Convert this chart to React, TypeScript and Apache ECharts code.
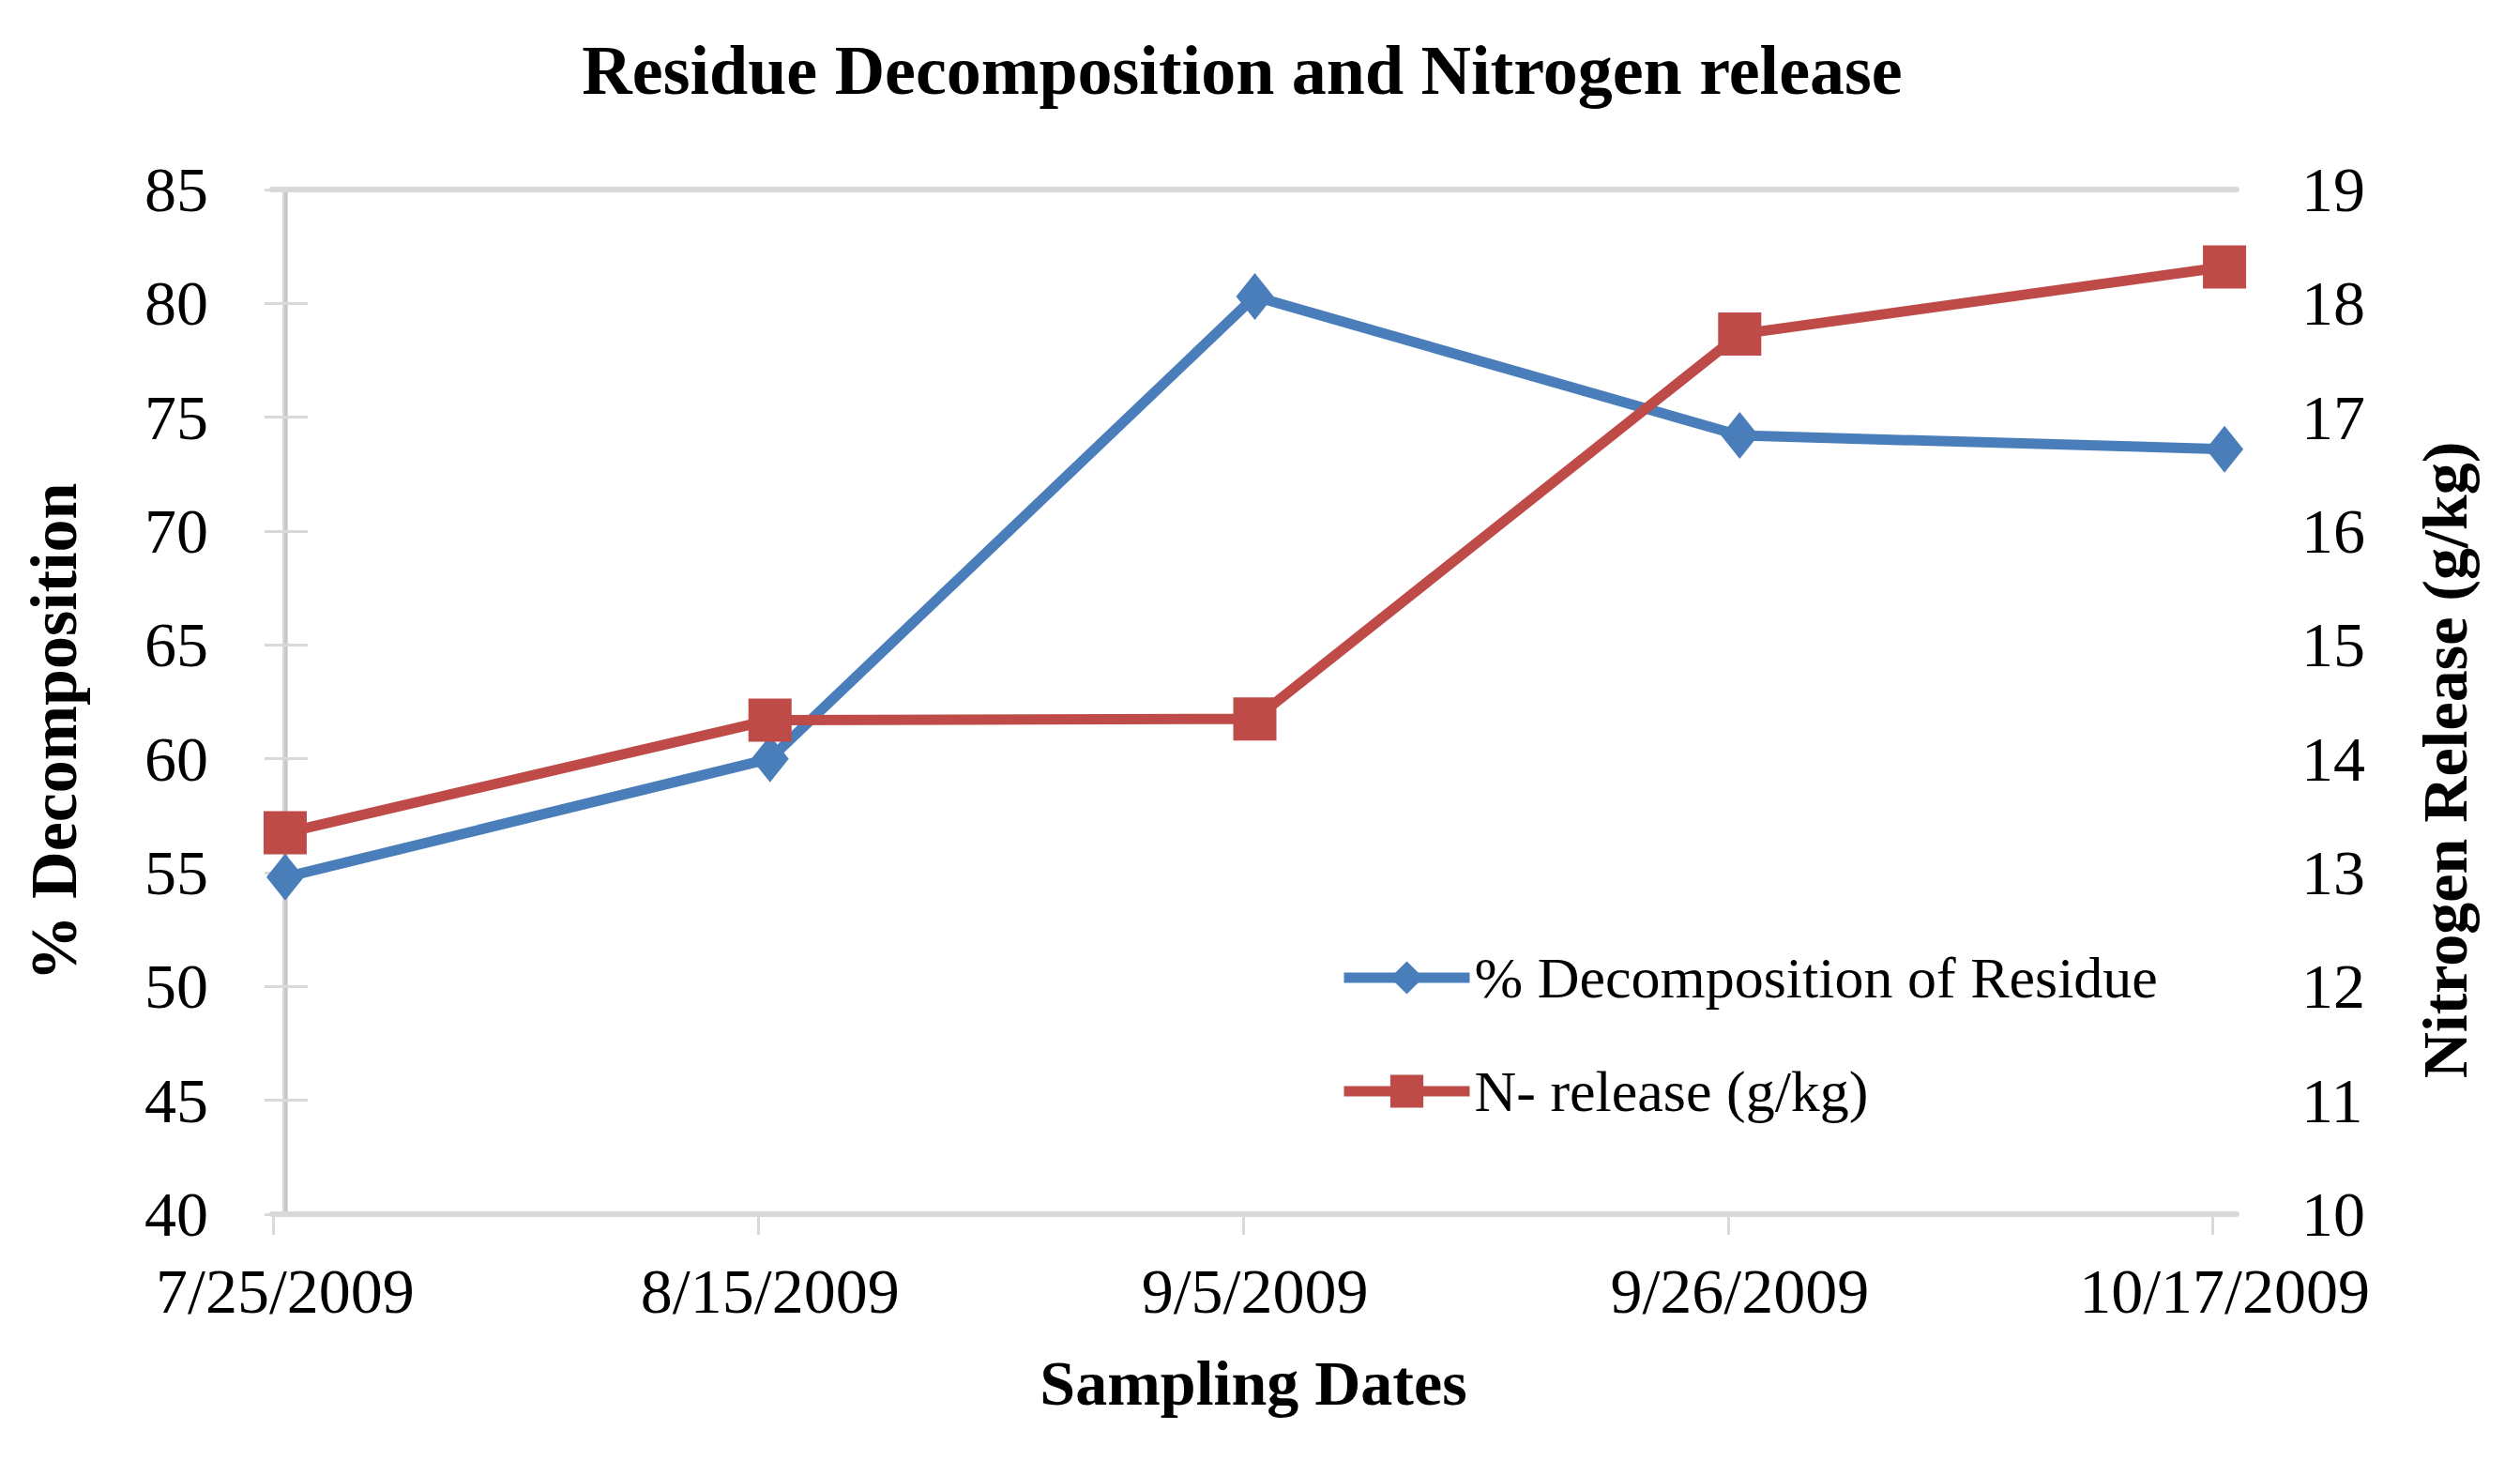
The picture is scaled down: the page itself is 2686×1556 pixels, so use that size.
import React, { useEffect, useRef } from "react";
import * as echarts from "echarts";

const dates = ["7/25/2009", "8/15/2009", "9/5/2009", "9/26/2009", "10/17/2009"];
const decomposition = [54.8, 60.0, 80.3, 74.2, 73.6];
const nRelease = [13.35, 14.34, 14.35, 17.73, 18.32];
const seriesNames = ["% Decomposition of Residue", "N- release (g/kg)"];
const titleText = "Residue Decomposition and Nitrogen release";
const xAxisTitle = "Sampling Dates";
const leftAxisTitle = "% Decomposition";
const rightAxisTitle = "Nitrogen Release (g/kg)";

const FONT = "'Liberation Serif', 'Times New Roman', serif";
const BLUE = "#4a7ebb";
const RED = "#be4b48";
const AXIS = "#d9d9d9";
const LINE_W = 11;

export default function App() {
  const ref = useRef<HTMLDivElement>(null);

  useEffect(() => {
    if (!ref.current) return;
    const chart = echarts.init(ref.current, null, { renderer: "svg" });
    const xMin = -0.027;
    const xMax = dates.length - 1 + 0.025;
    const idx = dates.map((_, i) => i);

    chart.setOption({
      animation: false,
      backgroundColor: "#ffffff",
      grid: { left: 290, right: 302, top: 202, bottom: 262, containLabel: false },
      legend: {
        orient: "vertical",
        left: 1427,
        top: 1011,
        padding: 0,
        itemWidth: 134,
        itemHeight: 44,
        itemGap: 59,
        textStyle: { fontFamily: FONT, fontSize: 62, color: "#000" },
        lineStyle: { width: LINE_W },
        data: seriesNames,
      },
      xAxis: [
        {
          type: "value",
          min: xMin,
          max: xMax,
          position: "bottom",
          axisLine: { show: true, lineStyle: { color: AXIS, width: 6 } },
          axisTick: {
            show: true,
            length: 22,
            customValues: idx.map((i) => i - 0.024),
            lineStyle: { color: AXIS, width: 3 },
          },
          axisLabel: {
            customValues: idx,
            formatter: (v: number) => dates[Math.round(v)] ?? "",
            fontFamily: FONT,
            fontSize: 68,
            color: "#000",
            margin: 82,
            verticalAlign: "middle",
          },
          splitLine: { show: false },
        },
        {
          type: "value",
          min: xMin,
          max: xMax,
          position: "top",
          axisLine: { show: true, lineStyle: { color: AXIS, width: 6 } },
          axisTick: { show: false },
          axisLabel: { show: false },
          splitLine: { show: false },
        },
      ],
      yAxis: [
        {
          type: "value",
          min: 40,
          max: 85,
          interval: 5,
          position: "left",
          axisLine: { show: true, lineStyle: { color: AXIS, width: 6 } },
          axisTick: { show: true, length: 22, lineStyle: { color: AXIS, width: 3 } },
          axisLabel: { fontFamily: FONT, fontSize: 68, color: "#000", margin: 68 },
          splitLine: { show: false },
        },
        {
          type: "value",
          min: 10,
          max: 19,
          interval: 1,
          position: "right",
          axisLine: { show: true, lineStyle: { color: "#c8c8c8", width: 3 } },
          axisTick: { show: true, length: 24, lineStyle: { color: AXIS, width: 3 } },
          axisLabel: { fontFamily: FONT, fontSize: 68, color: "#000", margin: 69 },
          splitLine: { show: false },
        },
      ],
      series: [
        {
          name: seriesNames[0],
          type: "line",
          xAxisIndex: 0,
          yAxisIndex: 0,
          data: idx.map((i) => [i, decomposition[i]]),
          symbol: "diamond",
          symbolSize: [40, 50],
          lineStyle: { color: BLUE, width: LINE_W },
          itemStyle: { color: BLUE },
          z: 2,
        },
        {
          name: seriesNames[1],
          type: "line",
          xAxisIndex: 0,
          yAxisIndex: 1,
          data: idx.map((i) => [i, nRelease[i]]),
          symbol: "rect",
          symbolSize: 46,
          lineStyle: { color: RED, width: LINE_W },
          itemStyle: { color: RED },
          z: 3,
        },
      ],
      graphic: [
        {
          type: "text",
          x: 1324,
          y: 75,
          style: {
            text: titleText,
            fontFamily: FONT,
            fontSize: 74,
            fontWeight: "bold",
            fill: "#000",
            align: "center",
            verticalAlign: "middle",
          },
        },
        {
          type: "text",
          x: 1336,
          y: 1474,
          style: {
            text: xAxisTitle,
            fontFamily: FONT,
            fontSize: 68,
            fontWeight: "bold",
            fill: "#000",
            align: "center",
            verticalAlign: "middle",
          },
        },
        {
          type: "text",
          x: 57,
          y: 780,
          rotation: Math.PI / 2,
          style: {
            text: leftAxisTitle,
            fontFamily: FONT,
            fontSize: 70,
            fontWeight: "bold",
            fill: "#000",
            align: "center",
            verticalAlign: "middle",
          },
        },
        {
          type: "text",
          x: 2606,
          y: 810,
          rotation: Math.PI / 2,
          style: {
            text: rightAxisTitle,
            fontFamily: FONT,
            fontSize: 68,
            fontWeight: "bold",
            fill: "#000",
            align: "center",
            verticalAlign: "middle",
          },
        },
      ],
    });

    return () => chart.dispose();
  }, []);

  return (
    <div
      ref={ref}
      style={{ position: "absolute", left: 0, top: 0, width: 2686, height: 1556, background: "#fff" }}
    />
  );
}
